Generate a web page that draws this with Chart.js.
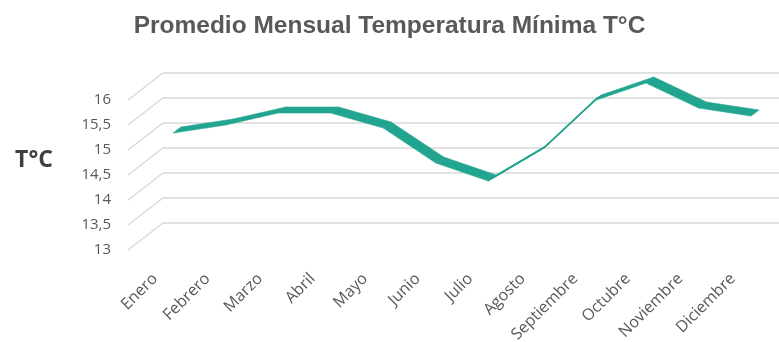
<!DOCTYPE html>
<html lang="es">
<head>
<meta charset="utf-8">
<title>Promedio Mensual Temperatura Mínima</title>
<script src="https://cdn.jsdelivr.net/npm/chart.js@4.4.1/dist/chart.umd.min.js"></script>
<style>
  html, body { margin: 0; padding: 0; background: #ffffff; }
</style>
</head>
<body>
<canvas id="myChart" width="779" height="342"></canvas>
<script>
// Datos
const meses = ['Enero', 'Febrero', 'Marzo', 'Abril', 'Mayo', 'Junio', 'Julio',
               'Agosto', 'Septiembre', 'Octubre', 'Noviembre', 'Diciembre'];
const tempMinima = [15.13, 15.29, 15.53, 15.53, 15.23, 14.53, 14.17, 14.79, 15.77, 16.13, 15.63, 15.47];
const yTicks = [13, 13.5, 14, 14.5, 15, 15.5, 16];

// profundidad del "3D": pared del fondo vs. borde frontal
const DEPTH_X = 35;
const DEPTH_Y = 27;
// grosor de la cinta de la serie
const RIBBON_X = 7.8;
const RIBBON_Y = 6;
const TEAL = '#21a590';

const wall3d = {
    id: 'wall3d',
    beforeDatasetsDraw(chart) {
        const ctx = chart.ctx;
        const y = chart.scales.y;
        const xBack = chart.chartArea.left - 14;
        const xFront = xBack - DEPTH_X;
        ctx.save();
        ctx.strokeStyle = '#d9d9d9';
        ctx.lineWidth = 1.3;
        yTicks.forEach(v => {
            const ym = y.getPixelForValue(v);
            const yBack = ym - DEPTH_Y / 2;
            ctx.beginPath();
            ctx.moveTo(xFront, yBack + DEPTH_Y);
            ctx.lineTo(xBack, yBack);
            ctx.lineTo(chart.width, yBack);
            ctx.stroke();
        });
        ctx.restore();
    },
    afterDatasetsDraw(chart) {
        const ctx = chart.ctx;
        const pts = chart.getDatasetMeta(0).data;
        const hx = RIBBON_X / 2, hy = RIBBON_Y / 2;
        ctx.save();
        ctx.fillStyle = TEAL;
        ctx.strokeStyle = TEAL;
        ctx.lineWidth = 0.6;
        for (let i = 0; i < pts.length - 1; i++) {
            const a = pts[i], b = pts[i + 1];
            ctx.beginPath();
            ctx.moveTo(a.x + hx, a.y - hy);
            ctx.lineTo(b.x + hx, b.y - hy);
            ctx.lineTo(b.x - hx, b.y + hy);
            ctx.lineTo(a.x - hx, a.y + hy);
            ctx.closePath();
            ctx.fill();
            ctx.stroke();
        }
        ctx.restore();

        // título del eje vertical
        ctx.save();
        ctx.font = 'bold 23px "Open Sans"';
        ctx.fillStyle = '#404040';
        ctx.textAlign = 'center';
        ctx.textBaseline = 'middle';
        ctx.fillText('T°C', 34, 160);
        ctx.restore();
    }
};

const data = {
    labels: meses,
    datasets: [{
        label: 'T°C mínima',
        data: tempMinima,
        borderColor: '#1c9884',
        borderWidth: 1.6,
        pointRadius: 0,
        tension: 0,
        fill: false
    }]
};

const config = {
    type: 'line',
    data: data,
    options: {
        responsive: false,
        animation: false,
        layout: { padding: 0 },
        plugins: {
            legend: { display: false },
            tooltip: { enabled: false },
            title: {
                display: true,
                text: 'Promedio Mensual Temperatura Mínima T°C',
                color: '#595959',
                font: { family: '"Liberation Sans", Arial, sans-serif', size: 24.5, weight: 'bold' },
                padding: { top: 11.5, bottom: 45.6 }
            }
        },
        scales: {
            x: {
                offset: false,
                grid: { display: false, drawTicks: false },
                border: { display: false },
                ticks: {
                    color: '#595959',
                    font: { family: '"Open Sans"', size: 16 },
                    minRotation: 45,
                    maxRotation: 45,
                    labelOffset: -22,
                    padding: 33,
                    autoSkip: false
                },
                afterFit: (scale) => {
                    scale.height = 105.5;
                    // margen fijo a la derecha del área del gráfico
                    scale.paddingRight = 24;
                }
            },
            y: {
                min: 13,
                max: 16,
                grid: { display: false, drawTicks: false },
                border: { display: false },
                afterBuildTicks: (scale) => { scale.ticks = yTicks.map(v => ({ value: v })); },
                ticks: {
                    color: '#595959',
                    font: { family: '"Open Sans"', size: 15 },
                    padding: 66,
                    labelOffset: 13.5,
                    callback: (v) => String(v).replace('.', ',')
                },
                afterFit: (scale) => { scale.width = 177; }
            }
        }
    },
    plugins: [wall3d]
};

const myChart = new Chart(document.getElementById('myChart'), config);
</script>
</body>
</html>
